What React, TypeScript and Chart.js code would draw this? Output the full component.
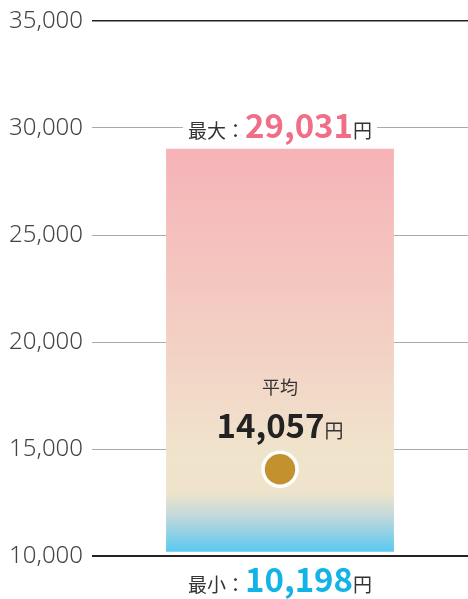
import React, { useEffect, useRef } from "react";
import { Chart, registerables } from "chart.js";

Chart.register(...registerables);

const categories = ["価格"];
const minValue = 10198;
const maxValue = 29031;
const avgValue = 14057;
const yTicks = [10000, 15000, 20000, 25000, 30000, 35000];

const FONT = '"Noto Sans CJK JP", "Noto Sans", sans-serif';
const TICK_FONT = '"Noto Sans", "Noto Sans CJK JP", sans-serif';

function drawParts(ctx: CanvasRenderingContext2D, parts: { t: string; font: string; color: string }[], cx: number, baseline: number, bg?: boolean) {
  let total = 0;
  const widths = parts.map((p) => {
    ctx.font = p.font;
    const w = ctx.measureText(p.t).width;
    total += w;
    return w;
  });
  let x = cx - total / 2;
  if (bg) {
    ctx.fillStyle = "#ffffff";
    ctx.fillRect(x - 5, baseline - 30, total + 10, 36);
  }
  ctx.textBaseline = "alphabetic";
  ctx.textAlign = "left";
  parts.forEach((p, i) => {
    ctx.font = p.font;
    ctx.fillStyle = p.color;
    ctx.fillText(p.t, x, baseline);
    x += widths[i];
  });
}

const labelPlugin = {
  id: "labels",
  afterDatasetsDraw(chart: any) {
    const ctx = chart.ctx as CanvasRenderingContext2D;
    const y = chart.scales.y;
    const bar = chart.getDatasetMeta(0).data[0];
    const cx = bar.x;
    ctx.save();
    const yMax = y.getPixelForValue(maxValue);
    drawParts(ctx, [
      { t: "最大：", font: `400 19px ${FONT}`, color: "#333333" },
      { t: maxValue.toLocaleString("en-US"), font: `700 33px ${FONT}`, color: "#F06E88" },
      { t: "円", font: `400 19px ${FONT}`, color: "#333333" },
    ], cx, yMax - 11, true);
    const yMin = y.getPixelForValue(minValue);
    drawParts(ctx, [
      { t: "最小：", font: `400 19px ${FONT}`, color: "#333333" },
      { t: minValue.toLocaleString("en-US"), font: `700 33px ${FONT}`, color: "#12B4E8" },
      { t: "円", font: `400 19px ${FONT}`, color: "#333333" },
    ], cx, yMin + 40);
    const yAvg = y.getPixelForValue(avgValue);
    drawParts(ctx, [{ t: "平均", font: `400 18px ${FONT}`, color: "#333333" }], cx, yAvg - 75);
    drawParts(ctx, [
      { t: avgValue.toLocaleString("en-US"), font: `700 33px ${FONT}`, color: "#222222" },
      { t: "円", font: `400 19px ${FONT}`, color: "#333333" },
    ], cx, yAvg - 31);
    ctx.restore();
  },
};

export default function App() {
  const ref = useRef<HTMLCanvasElement>(null);
  useEffect(() => {
    document.body.style.margin = "0";
    const chart = new Chart(ref.current!, {
      type: "bar",
      data: {
        labels: categories,
        datasets: [
          {
            type: "bar",
            data: [[minValue, maxValue]] as any,
            barPercentage: 0.606,
            categoryPercentage: 1,
            backgroundColor: (c: any) => {
              const ch = c.chart;
              const ys = ch.scales.y;
              if (!ys || !ch.chartArea) return "#F0E4CC";
              const top = ys.getPixelForValue(maxValue);
              const bot = ys.getPixelForValue(minValue);
              const g = ch.ctx.createLinearGradient(0, top, 0, bot);
              g.addColorStop(0, "#F6B3B8");
              g.addColorStop(0.45, "#F3CEC3");
              g.addColorStop(0.76, "#F0E4CC");
              g.addColorStop(0.85, "#EFE4CB");
              g.addColorStop(0.91, "#C3D9DA");
              g.addColorStop(1, "#5BC8F1");
              return g;
            },
            order: 2,
          } as any,
          {
            type: "line",
            data: [avgValue],
            showLine: false,
            pointRadius: 17,
            pointBorderWidth: 3.5,
            pointBackgroundColor: "#C3922E",
            pointBorderColor: "#ffffff",
            order: 1,
          } as any,
        ],
      },
      options: {
        animation: false,
        responsive: false,
        maintainAspectRatio: false,
        layout: { autoPadding: false, padding: { top: 16, bottom: 43, left: 0, right: 0 } },
        plugins: { legend: { display: false }, tooltip: { enabled: false } },
        scales: {
          x: { display: false },
          y: {
            min: 10000,
            max: 35000,
            afterBuildTicks: (s: any) => {
              s.ticks = yTicks.map((v) => ({ value: v }));
            },
            afterFit: (s: any) => {
              s.width = 92;
            },
            border: { display: false },
            grid: {
              drawTicks: false,
              color: (c: any) => (c.tick && (c.tick.value === 10000 || c.tick.value === 35000) ? "#222222" : "#AAAAAA"),
              lineWidth: (c: any) => (c.tick && c.tick.value === 10000 ? 2 : c.tick && c.tick.value === 35000 ? 1.5 : 1),
            },
            ticks: {
              padding: 9,
              color: "#444444",
              font: { family: TICK_FONT, size: 24, weight: 300 as any, lineHeight: 1 },
              callback: (v: any) => Number(v).toLocaleString("en-US"),
            },
          },
        },
      },
      plugins: [labelPlugin],
    });
    return () => chart.destroy();
  }, []);
  return (
    <div style={{ position: "absolute", left: 0, top: 0, width: 468, height: 599 }}>
      <canvas ref={ref} width={468} height={599} style={{ width: 468, height: 599 }} />
    </div>
  );
}
